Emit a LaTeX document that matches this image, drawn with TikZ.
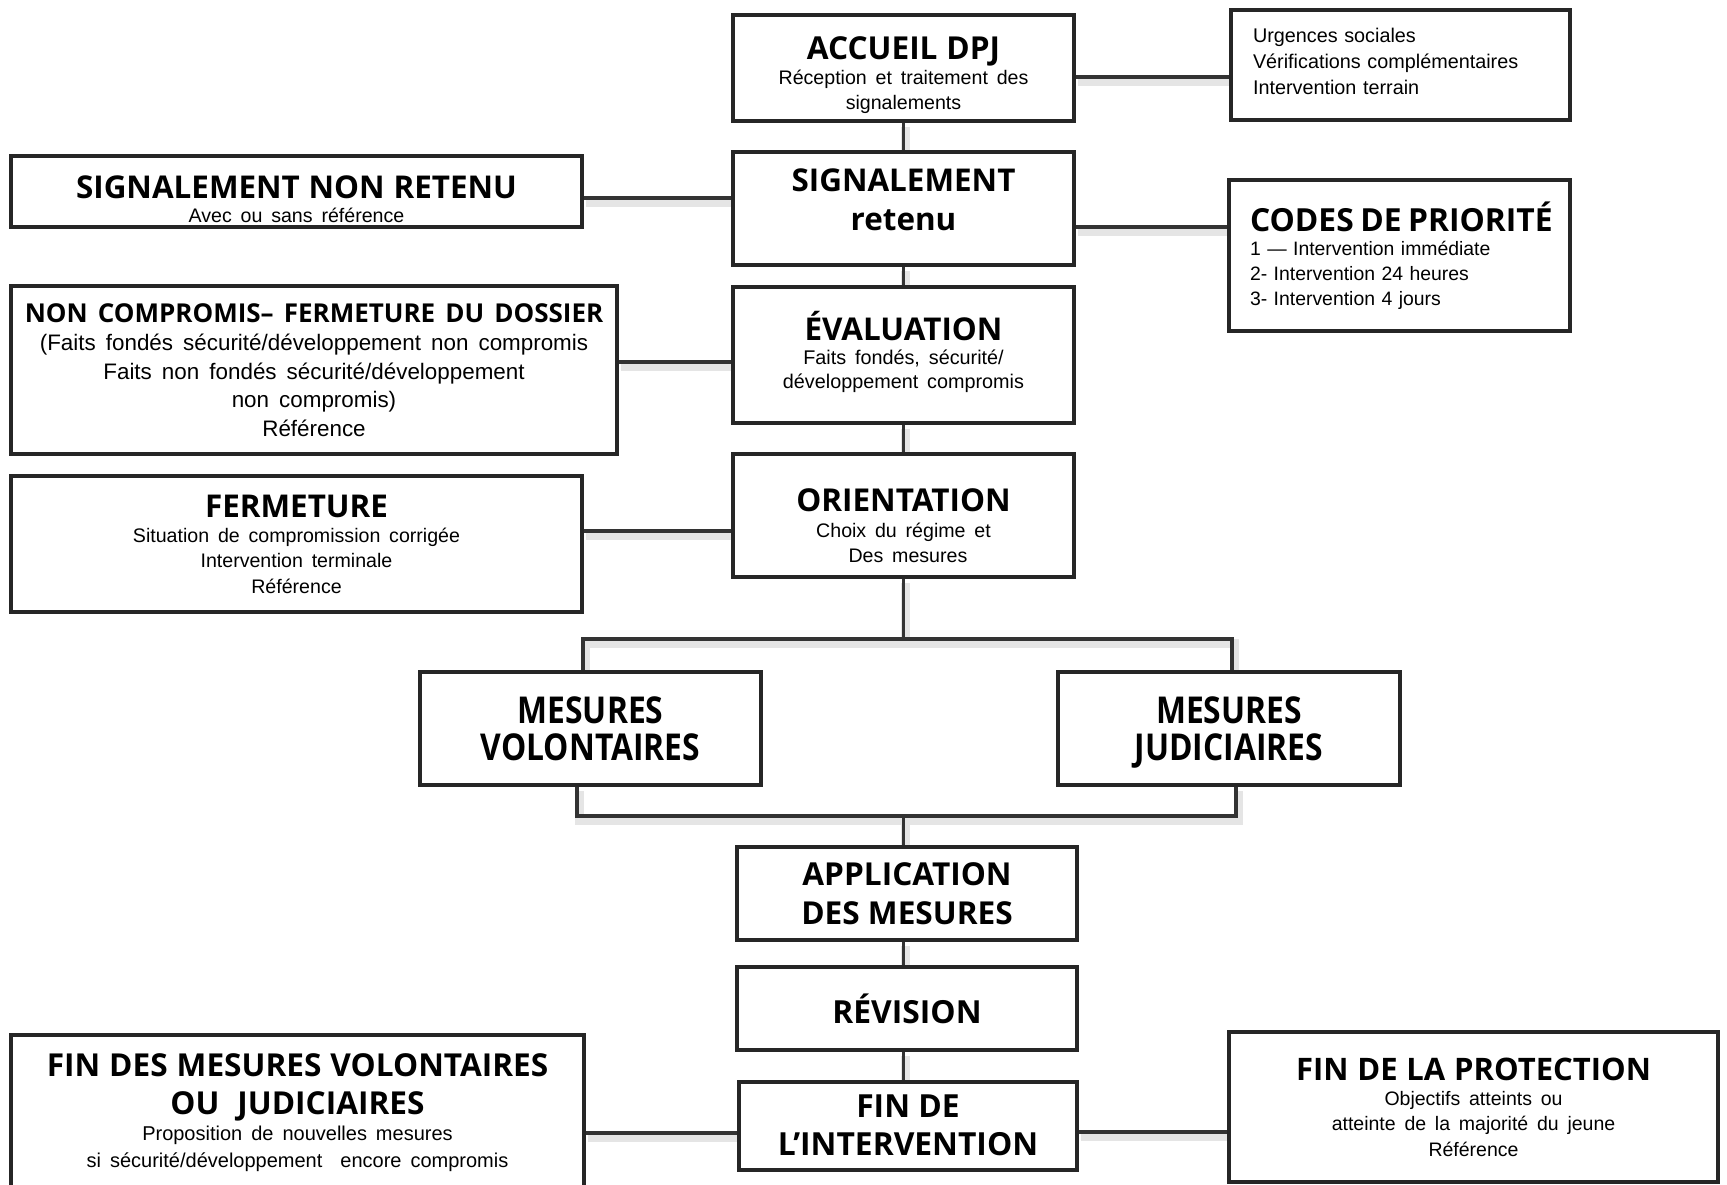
\documentclass[tikz,border=0pt]{standalone}
\usepackage{fontspec}
\usepackage{graphicx}
\setmainfont{Liberation Sans}
\newfontfamily\headfont{Open Sans}
\usetikzlibrary{positioning,backgrounds}

\newcommand{\head}[2][15.5]{{\headfont\bfseries\fontsize{#1}{#1}\selectfont #2}}
\newcommand{\txt}[2]{\fontsize{#1}{#2}\selectfont\spaceskip=0.45em}
\newcommand{\narrow}[1]{\scalebox{0.86}[1]{#1}}

\tikzset{
  box/.style 2 args={draw=black!85, line width=2pt, fill=white, align=center,
    inner sep=0pt, minimum width=#1, minimum height=#2},
  link/.style={draw=black!80, line width=1.6pt,
    preaction={draw=black!10, line width=4.5pt, transform canvas={shift={(1pt,-2pt)}}}},
}

\begin{document}
\begin{tikzpicture}[x=0.5pt,y=-0.5pt]
  \useasboundingbox (0,0) rectangle (1727,1184);
  \clip (0,0) rectangle (1727,1184);

  \node[box={170.5pt}{53pt}, text height=44pt, font=\txt{9.8}{12.5}] (accueil) at (903.5,68)
    {\head[15.8]{ACCUEIL DPJ}\\Réception et traitement des\\signalements};
  \node[box={169.5pt}{55pt}, text depth=29.5pt, font=\txt{9.9}{13}, align=left,
    inner xsep=11pt, text width=147.5pt] (urgences) at (1400.5,65)
    {Urgences sociales\\Vérifications complémentaires\\Intervention terrain};
  \node[box={170.5pt}{56.5pt}, text depth=9pt,
    font=\headfont\bfseries\fontsize{15.7}{19.3}\selectfont]
    (retenu) at (903.5,208.5) {SIGNALEMENT\\retenu};
  \node[box={285.5pt}{35.5pt}, text height=30.5pt, text depth=0pt, font=\txt{9.8}{12}]
    (nonretenu) at (296.5,191.5)
    {\head[15.7]{SIGNALEMENT NON RETENU}\\Avec ou sans référence};
  \node[box={170.5pt}{75.5pt}, font=\txt{9.7}{12.4}, align=left, inner xsep=10.5pt,
    text width=149.5pt] (codes) at (1399.5,255.5)
    {\mbox{\head[15.9]{CODES DE PRIORITÉ}}\\1 — Intervention immédiate\\2- Intervention 24 heures\\3- Intervention 4 jours};
  \node[box={303pt}{84pt}, font=\txt{11.2}{14.3}] (noncomp) at (314,370)
    {\head[13]{NON COMPROMIS– FERMETURE DU DOSSIER}\\(Faits fondés sécurité/développement non compromis\\Faits non fondés sécurité/développement\\non compromis)\\Référence};
  \node[box={170.5pt}{68pt}, text depth=5.4pt, font=\txt{9.9}{12}] (eval) at (903.5,355)
    {\head[15.7]{ÉVALUATION}\\Faits fondés, sécurité/\\développement compromis};
  \node[box={285.5pt}{68pt}, font=\txt{9.8}{12.7}] (ferm) at (296.5,544)
    {\head[15.7]{FERMETURE}\\Situation de compromission corrigée\\Intervention terminale\\Référence};
  \node[box={170.5pt}{61.5pt}, text height=47pt, font=\txt{9.8}{12.7}] (orient) at (903.5,515.5)
    {\head[15.75]{ORIENTATION}\\Choix du régime et\\\ Des mesures};

  \node[box={170.5pt}{56.5pt}, font=\headfont\bfseries\fontsize{18.5}{18.7}\selectfont]
    (volont) at (590.5,728.5) {\narrow{MESURES}\\\narrow{VOLONTAIRES}};
  \node[box={171pt}{56.5pt}, text depth=0pt,
    font=\headfont\bfseries\fontsize{18.5}{18.7}\selectfont]
    (judic) at (1229,728.5) {\narrow{MESURES}\\\narrow{JUDICIAIRES}};

  \node[box={170pt}{46.5pt}, font=\headfont\bfseries\fontsize{15.8}{19.3}\selectfont]
    (appli) at (907,893.5) {APPLICATION\\DES MESURES};
  \node[box={170pt}{41.5pt}, font=\headfont\bfseries\fontsize{15.9}{19}\selectfont]
    (revis) at (907,1008.5) {RÉVISION};
  \node[box={169pt}{44pt}, text depth=1pt,
    font=\headfont\bfseries\fontsize{15.9}{19.3}\selectfont]
    (finint) at (908,1126) {FIN DE\\L’INTERVENTION};
  \node[box={286.5pt}{77.5pt}, font=\txt{10}{13.2}] (finmes) at (297.5,1112.5)
    {\head[15.8]{FIN DES MESURES VOLONTAIRES}\\[5.5pt]\head[15.8]{OU\ \ JUDICIAIRES}\\Proposition de nouvelles mesures\\si sécurité/développement\ \ encore compromis};
  \node[box={244.5pt}{75pt}, font=\txt{9.75}{12.7}] (finprot) at (1473.5,1107)
    {\head[15.5]{FIN DE LA PROTECTION}\\Objectifs atteints ou\\atteinte de la majorité du jeune\\Référence};

  \coordinate (split) at (903.5,639);
  \coordinate (join) at (903.5,816);

  \begin{scope}[on background layer]
    \draw[link] (accueil) -- (retenu);
    \draw[link] (retenu) -- (eval);
    \draw[link] (eval) -- (orient);
    \draw[link] (orient) -- (split);
    \draw[link] ([xshift=-3.75pt]volont.north) |- (split) -| ([xshift=1.5pt]judic.north);
    \draw[link] ([xshift=-6.75pt]volont.south) |- (join) -| ([xshift=3.5pt]judic.south);
    \draw[link] (join) -- (join |- appli.north);
    \draw[link] (appli.south -| join) -- (revis.north -| join);
    \draw[link] (revis.south -| join) -- (finint.north -| join);

    \draw[link] (accueil.east) ++(0,9) coordinate (a1) -- (a1 -| urgences.west);
    \draw[link] (nonretenu.east) ++(0,6.5) coordinate (a2) -- (a2 -| retenu.west);
    \draw[link] (retenu.east) ++(0,18.5) coordinate (a3) -- (a3 -| codes.west);
    \draw[link] (noncomp.east) ++(0,-8) coordinate (a4) -- (a4 -| eval.west);
    \draw[link] (ferm.east) ++(0,-13) coordinate (a5) -- (a5 -| orient.west);
    \draw[link] (finmes.east) ++(0,20.5) coordinate (a6) -- (a6 -| finint.west);
    \draw[link] (finint.east) ++(0,6) coordinate (a7) -- (a7 -| finprot.west);
  \end{scope}
\end{tikzpicture}
\end{document}
